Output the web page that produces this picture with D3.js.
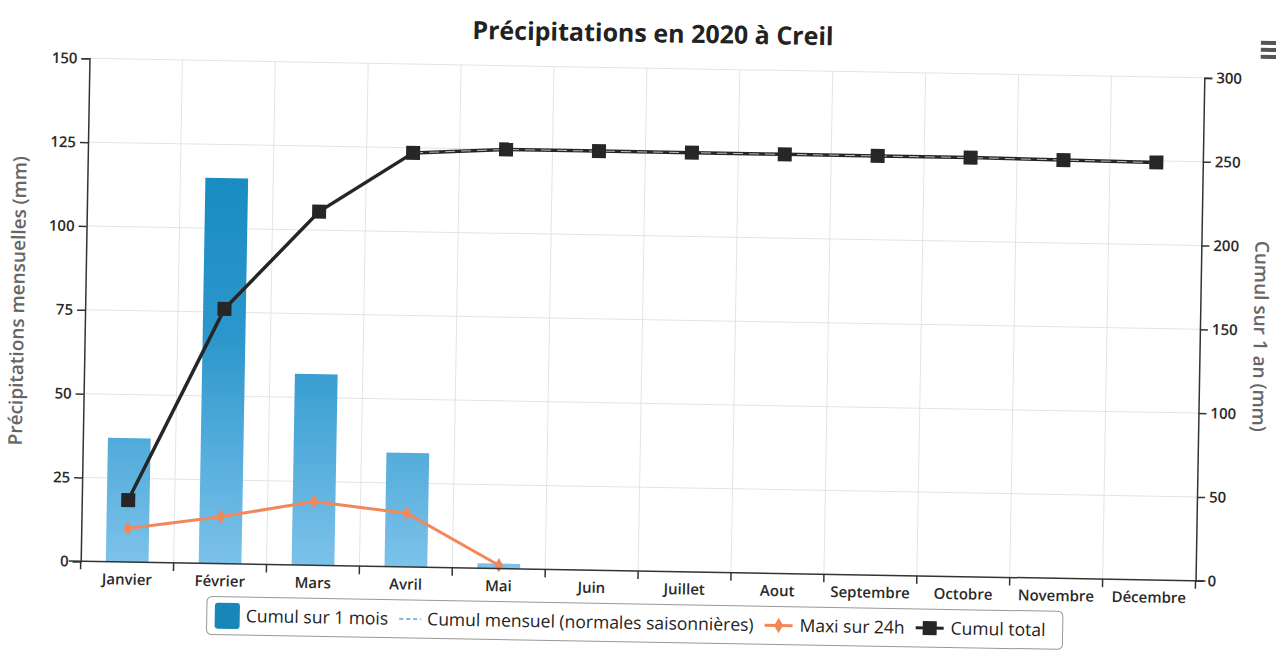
<!DOCTYPE html>
<html>
<head>
<meta charset="utf-8">
<script src="https://cdn.jsdelivr.net/npm/d3@7"></script>
<style>
  body { margin: 0; background: #fff; }
  text { font-family: "Open Sans", "DejaVu Sans", sans-serif; }
</style>
</head>
<body>
<div id="chart"></div>
<script>
// Data (2020, Creil)
const months = ["Janvier", "Février", "Mars", "Avril", "Mai", "Juin", "Juillet", "Aout", "Septembre", "Octobre", "Novembre", "Décembre"];
const monthlyRain = [37, 115, 57, 34, 1.5, null, null, null, null, null, null, null];   // Cumul sur 1 mois (mm)
const normals = [];                                                                      // Cumul mensuel (normales saisonnières) - not drawn in source
const max24h = [10, 14, 19, 16, 1, null, null, null, null, null, null, null];            // Maxi sur 24h (mm)
const cumulTotal = [37, 152, 211, 247, 250, 250, 250, 250, 250, 250, 249.5, 249];        // Cumul total (mm)
const leftTicks = [0, 25, 50, 75, 100, 125, 150];
const rightTicks = [0, 50, 100, 150, 200, 250, 300];

const width = 1276;
const height = 652;
const plotLeft = 85, plotRight = 1200, plotTop = 68, plotBottom = 571;
const TILT = 1.0; // the source is a slightly rotated scan

const GRID_COLOR = "#e4e4e4";
const AXIS_COLOR = "#333";
const ORANGE = "#f2875a";
const BLACK = "#262626";

const svg = d3.select("#chart").append("svg")
  .attr("width", width)
  .attr("height", height);

svg.append("rect").attr("width", width).attr("height", height).attr("fill", "#fff");

const defs = svg.append("defs");
const grad = defs.append("linearGradient")
  .attr("id", "barGrad")
  .attr("gradientUnits", "userSpaceOnUse")
  .attr("x1", 0).attr("x2", 0)
  .attr("y1", plotTop).attr("y2", plotBottom);
grad.append("stop").attr("offset", "0%").attr("stop-color", "#0a84bb");
grad.append("stop").attr("offset", "55%").attr("stop-color", "#2c97cc");
grad.append("stop").attr("offset", "100%").attr("stop-color", "#7cc2ea");

const g = svg.append("g").attr("transform", `rotate(${TILT}, 640, 320)`);

// scales
const x = d3.scaleBand().domain(months).range([plotLeft, plotRight]).padding(0);
const yL = d3.scaleLinear().domain([0, 150]).range([plotBottom, plotTop]);
const yR = d3.scaleLinear().domain([0, 300]).range([plotBottom, plotTop]);
const barW = x.bandwidth() * 0.46;
const cx = (m) => x(m) + x.bandwidth() / 2;

// gridlines
g.append("g").selectAll("line.h")
  .data(leftTicks.slice(1))
  .enter().append("line")
  .attr("x1", plotLeft).attr("x2", plotRight)
  .attr("y1", (d) => yL(d)).attr("y2", (d) => yL(d))
  .attr("stroke", GRID_COLOR);

g.append("g").selectAll("line.v")
  .data(months.slice(1))
  .enter().append("line")
  .attr("x1", (d) => x(d)).attr("x2", (d) => x(d))
  .attr("y1", plotTop).attr("y2", plotBottom)
  .attr("stroke", GRID_COLOR);

// title
g.append("text")
  .attr("x", 648).attr("y", 42)
  .attr("text-anchor", "middle")
  .style("font-size", "25px")
  .style("font-weight", "bold")
  .style("fill", "#222")
  .text("Précipitations en 2020 à Creil");

// menu icon
g.append("g").selectAll("rect")
  .data([0, 1, 2])
  .enter().append("rect")
  .attr("x", 1256).attr("y", (d) => 30 + d * 7)
  .attr("width", 17).attr("height", 4)
  .attr("fill", "#555");

// bars
g.append("g").selectAll("rect")
  .data(months.map((m, i) => ({ m, v: monthlyRain[i] })).filter((d) => d.v != null))
  .enter().append("rect")
  .attr("x", (d) => cx(d.m) - barW / 2)
  .attr("y", (d) => yL(d.v))
  .attr("width", barW)
  .attr("height", (d) => plotBottom - yL(d.v))
  .attr("fill", "url(#barGrad)");

// Maxi sur 24h
const maxData = months.map((m, i) => ({ m, v: max24h[i] })).filter((d) => d.v != null);
g.append("path")
  .datum(maxData)
  .attr("d", d3.line().x((d) => cx(d.m)).y((d) => yL(d.v)))
  .attr("fill", "none")
  .attr("stroke", ORANGE)
  .attr("stroke-width", 3);

g.append("g").selectAll("path")
  .data(maxData)
  .enter().append("path")
  .attr("d", d3.symbol(d3.symbolDiamond, 60))
  .attr("transform", (d) => `translate(${cx(d.m)},${yL(d.v)})`)
  .attr("fill", ORANGE);

// Cumul total
const cumData = months.map((m, i) => ({ m, v: cumulTotal[i] }));
const cumLine = d3.line().x((d) => cx(d.m)).y((d) => yR(d.v));
g.append("path")
  .datum(cumData)
  .attr("d", cumLine)
  .attr("fill", "none")
  .attr("stroke", BLACK)
  .attr("stroke-width", 3.5);

// faint double-stroke look on the flat part of the curve
g.append("path")
  .datum(cumData.slice(3))
  .attr("d", cumLine)
  .attr("fill", "none")
  .attr("stroke", "#bbb")
  .attr("stroke-width", 1)
  .attr("stroke-dasharray", "10,6");

g.append("g").selectAll("rect")
  .data(cumData)
  .enter().append("rect")
  .attr("x", (d) => cx(d.m) - 7)
  .attr("y", (d) => yR(d.v) - 7)
  .attr("width", 14).attr("height", 14)
  .attr("fill", BLACK);

// axes
const axisLeft = g.append("g")
  .attr("transform", `translate(${plotLeft},0)`)
  .call(d3.axisLeft(yL).tickValues(leftTicks).tickSize(8).tickPadding(4));

const axisRight = g.append("g")
  .attr("transform", `translate(${plotRight},0)`)
  .call(d3.axisRight(yR).tickValues(rightTicks).tickSize(8).tickPadding(4));

const axisBottom = g.append("g")
  .attr("transform", `translate(0,${plotBottom})`)
  .call(d3.axisBottom(x).tickSize(0).tickPadding(12));

// band boundary ticks on the x axis
g.append("g").selectAll("line")
  .data(months.concat(["end"]))
  .enter().append("line")
  .attr("x1", (d, i) => (i < 12 ? x(d) : plotRight))
  .attr("x2", (d, i) => (i < 12 ? x(d) : plotRight))
  .attr("y1", plotBottom).attr("y2", plotBottom + 8)
  .attr("stroke", AXIS_COLOR)
  .attr("stroke-width", 1.5);

[axisLeft, axisRight, axisBottom].forEach((a) => {
  a.select(".domain").attr("stroke", AXIS_COLOR).attr("stroke-width", 1.5);
  a.selectAll(".tick line").attr("stroke", AXIS_COLOR).attr("stroke-width", 1.5);
  a.selectAll("text")
    .style("font-family", "'Open Sans', sans-serif")
    .style("font-size", "15px")
    .style("font-weight", "600")
    .style("fill", "#2a2a2a");
});
axisBottom.select(".domain").attr("d", `M${plotLeft - 12},0H${plotRight + 10}`);

// axis titles
g.append("text")
  .attr("transform", `translate(24,${(plotTop + plotBottom) / 2 - 8}) rotate(-90)`)
  .attr("text-anchor", "middle")
  .style("font-size", "19px")
  .style("font-weight", "600")
  .style("fill", "#666")
  .text("Précipitations mensuelles (mm)");

g.append("text")
  .attr("transform", `translate(1254,${(plotTop + plotBottom) / 2 + 6}) rotate(90)`)
  .attr("text-anchor", "middle")
  .style("font-size", "19px")
  .style("font-weight", "600")
  .style("fill", "#666")
  .text("Cumul sur 1 an (mm)");

// legend
const legend = g.append("g").attr("transform", "translate(212,604)");
legend.append("rect")
  .attr("width", 856).attr("height", 38)
  .attr("rx", 5)
  .attr("fill", "#fff")
  .attr("stroke", "#999");

const legendItems = [
  { label: "Cumul sur 1 mois", kind: "bar" },
  { label: "Cumul mensuel (normales saisonnières)", kind: "dash" },
  { label: "Maxi sur 24h", kind: "orange" },
  { label: "Cumul total", kind: "black" },
];

let lx = 8;
legendItems.forEach((item) => {
  const it = legend.append("g").attr("transform", `translate(${lx},19)`);
  let sym = 31;
  if (item.kind === "bar") {
    it.append("rect").attr("x", 0).attr("y", -13).attr("width", 25).attr("height", 26).attr("rx", 3).attr("fill", "#1786b9");
  } else if (item.kind === "dash") {
    it.append("line").attr("x1", 0).attr("x2", 22).attr("y1", 0).attr("y2", 0)
      .attr("stroke", "#7fb8d8").attr("stroke-width", 2).attr("stroke-dasharray", "4,3");
    sym = 28;
  } else if (item.kind === "orange") {
    it.append("line").attr("x1", 0).attr("x2", 28).attr("y1", 0).attr("y2", 0).attr("stroke", ORANGE).attr("stroke-width", 3);
    it.append("path").attr("d", d3.symbol(d3.symbolDiamond, 70)).attr("transform", "translate(14,0)").attr("fill", ORANGE);
    sym = 35;
  } else {
    it.append("line").attr("x1", 0).attr("x2", 28).attr("y1", 0).attr("y2", 0).attr("stroke", BLACK).attr("stroke-width", 3);
    it.append("rect").attr("x", 7).attr("y", -7).attr("width", 14).attr("height", 14).attr("fill", BLACK);
    sym = 35;
  }
  const t = it.append("text")
    .attr("x", sym).attr("y", 6)
    .style("font-size", "17.5px")
    .style("fill", "#222")
    .text(item.label);
  lx += sym + t.node().getComputedTextLength() + 11;
});
</script>
</body>
</html>
